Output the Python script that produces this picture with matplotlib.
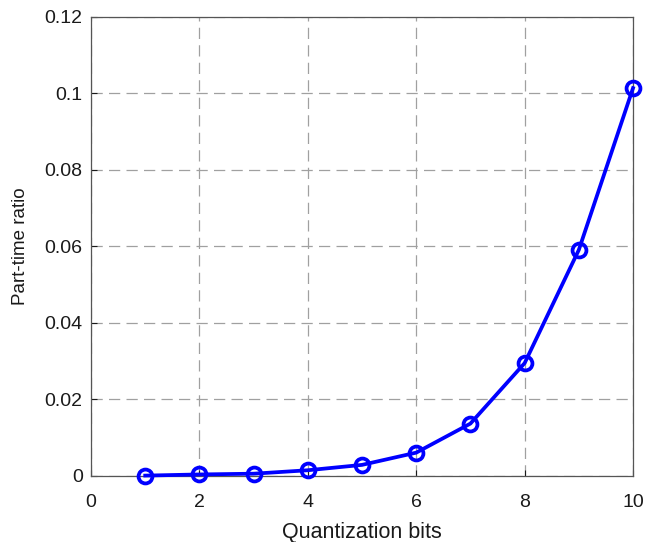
import matplotlib
matplotlib.use("Agg")
import matplotlib.pyplot as plt

plt.rcParams['font.family'] = ['Liberation Sans', 'DejaVu Sans']

bits = [1, 2, 3, 4, 5, 6, 7, 8, 9, 10]
ratio = [0.0001, 0.0004, 0.0006, 0.0015, 0.0029, 0.0061, 0.0137, 0.0295, 0.0591, 0.1014]
xticks = [0, 2, 4, 6, 8, 10]
yticks = [0, 0.02, 0.04, 0.06, 0.08, 0.1, 0.12]
yticklabels = ['0', '0.02', '0.04', '0.06', '0.08', '0.1', '0.12']

fig = plt.figure(figsize=(6.46, 5.42), dpi=100)
ax = fig.add_axes([0.1409, 0.1218, 0.839, 0.8469])

ax.plot(bits, ratio, color='#0000ff', linewidth=2.7, marker='o',
        markersize=10, markerfacecolor='none', markeredgewidth=2.7,
        markeredgecolor='#0000ff', zorder=3, clip_on=False)

ax.set_xlim(0, 10)
ax.set_ylim(0, 0.12)
ax.set_xticks(xticks)
ax.set_yticks(yticks)
ax.set_yticklabels(yticklabels)
ax.tick_params(direction='in', length=4, labelsize=14, colors='#1a1a1a')
ax.tick_params(axis='x', pad=13)
ax.tick_params(axis='y', pad=6)
ax.grid(True, color='#a0a0a0', linestyle=(0, (9, 5)), linewidth=0.9)

for s in ax.spines.values():
    s.set_color('#555555')
    s.set_linewidth(0.9)

ax.set_xlabel('Quantization bits', fontsize=15.5, labelpad=8, color='#1a1a1a')
ax.set_ylabel('Part-time ratio', fontsize=13.5, labelpad=11, color='#1a1a1a')

fig.savefig('out.png', dpi=100)
